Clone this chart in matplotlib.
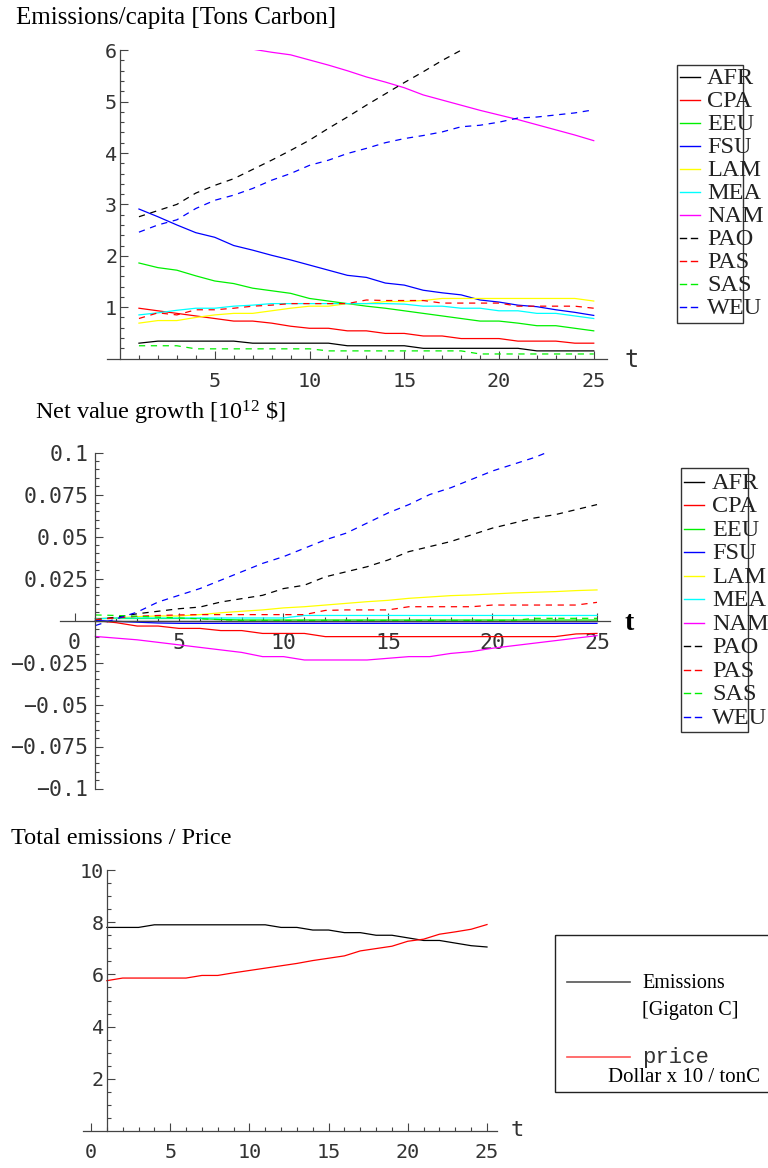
import numpy as np
import matplotlib
matplotlib.use("Agg")
import matplotlib.pyplot as plt
from matplotlib.patches import Rectangle

plt.rcParams["mathtext.fontset"] = "custom"
plt.rcParams["mathtext.rm"] = "Liberation Serif"
plt.rcParams["mathtext.it"] = "Liberation Serif"

t = np.arange(1, 26)

regions = ["AFR", "CPA", "EEU", "FSU", "LAM", "MEA", "NAM", "PAO", "PAS", "SAS", "WEU"]
colors = ["black", "red", "#00f000", "blue", "#ffff00", "cyan", "magenta",
          "black", "red", "#00f000", "blue"]
dashed = [False] * 7 + [True] * 4

# emissions per capita [tons carbon]
afr_cap = [0.30, 0.34, 0.34, 0.34, 0.34, 0.34, 0.30, 0.30, 0.30, 0.30, 0.30, 0.25, 0.25,
           0.25, 0.25, 0.20, 0.20, 0.20, 0.20, 0.20, 0.20, 0.15, 0.15, 0.15, 0.15]
cpa_cap = [0.98, 0.93, 0.88, 0.83, 0.78, 0.73, 0.73, 0.69, 0.63, 0.59, 0.59, 0.54, 0.54,
           0.49, 0.49, 0.44, 0.44, 0.39, 0.39, 0.39, 0.34, 0.34, 0.34, 0.30, 0.30]
eeu_cap = [1.86, 1.77, 1.72, 1.61, 1.51, 1.46, 1.37, 1.32, 1.27, 1.17, 1.12, 1.07, 1.02,
           0.98, 0.93, 0.88, 0.83, 0.78, 0.73, 0.73, 0.69, 0.64, 0.64, 0.59, 0.54]
fsu_cap = [2.91, 2.76, 2.60, 2.45, 2.36, 2.20, 2.11, 2.01, 1.92, 1.82, 1.72, 1.62, 1.58,
           1.47, 1.43, 1.33, 1.28, 1.24, 1.14, 1.10, 1.04, 1.01, 0.95, 0.90, 0.84]
lam_cap = [0.69, 0.74, 0.74, 0.80, 0.85, 0.88, 0.88, 0.93, 0.98, 1.02, 1.02, 1.07, 1.07,
           1.11, 1.11, 1.13, 1.17, 1.17, 1.17, 1.17, 1.17, 1.17, 1.17, 1.17, 1.12]
mea_cap = [0.85, 0.89, 0.94, 0.98, 0.98, 1.02, 1.04, 1.07, 1.07, 1.07, 1.07, 1.07, 1.07,
           1.07, 1.06, 1.02, 1.02, 0.98, 0.98, 0.93, 0.93, 0.88, 0.88, 0.83, 0.78]
nam_cap = [6.80, 6.68, 6.55, 6.42, 6.30, 6.18, 6.02, 5.96, 5.91, 5.81, 5.71, 5.60, 5.48,
           5.38, 5.27, 5.13, 5.03, 4.93, 4.83, 4.74, 4.65, 4.55, 4.45, 4.35, 4.24]
pao_cap = [2.76, 2.88, 3.00, 3.22, 3.37, 3.50, 3.68, 3.86, 4.05, 4.25, 4.48, 4.70, 4.93,
           5.15, 5.37, 5.58, 5.80, 6.00, 6.20, 6.42, 6.62, 6.84, 7.05, 7.27, 7.48]
pas_cap = [0.78, 0.89, 0.85, 0.95, 0.95, 0.98, 1.02, 1.04, 1.07, 1.07, 1.07, 1.07, 1.14,
           1.13, 1.13, 1.13, 1.08, 1.08, 1.08, 1.08, 1.02, 1.02, 1.02, 1.02, 0.98]
sas_cap = [0.25, 0.25, 0.25, 0.19, 0.19, 0.19, 0.19, 0.19, 0.19, 0.19, 0.15, 0.15, 0.15,
           0.15, 0.15, 0.15, 0.15, 0.15, 0.09, 0.09, 0.09, 0.09, 0.09, 0.09, 0.09]
weu_cap = [2.46, 2.60, 2.70, 2.92, 3.08, 3.18, 3.31, 3.47, 3.60, 3.76, 3.86, 3.99, 4.09,
           4.20, 4.28, 4.34, 4.41, 4.51, 4.54, 4.60, 4.68, 4.70, 4.74, 4.78, 4.84]

# net value growth [10^12 $]
afr_nvg = [0.0] * 25
cpa_nvg = [0.0, -0.0013, -0.0033, -0.0033, -0.0047, -0.0047, -0.006, -0.006, -0.0077,
           -0.0077, -0.0077, -0.0096, -0.0096, -0.0096, -0.0096, -0.0096, -0.0096, -0.0096,
           -0.0096, -0.0096, -0.0096, -0.0096, -0.0096, -0.008, -0.0077]
eeu_nvg = [0.0012, 0.0012, 0.0012, 0.0012, 0.0012, 0.0012, 0.0006, 0.0003, 0.0003, 0.0003,
           0.0003, 0.0003, 0.0003, 0.0003, 0.0003, 0.0003, 0.0003, 0.0003, 0.0003, 0.0003,
           0.0003, 0.0003, 0.0003, 0.0003, 0.0003]
fsu_nvg = [0.0, -0.0005, -0.001, -0.0015] + [-0.0017] * 21
lam_nvg = [0.001, 0.0015, 0.0023, 0.0027, 0.0027, 0.0035, 0.0046, 0.0055, 0.0063, 0.0075,
           0.0082, 0.0092, 0.0102, 0.0112, 0.012, 0.0132, 0.014, 0.0148, 0.0152, 0.0158,
           0.0164, 0.0168, 0.0172, 0.0178, 0.0182]
mea_nvg = [0.001] + [0.0015] * 9 + [0.003] * 15
nam_nvg = [-0.0095, -0.0105, -0.0115, -0.013, -0.0145, -0.016, -0.0175, -0.019, -0.0215,
           -0.0215, -0.0235, -0.0235, -0.0235, -0.0235, -0.0225, -0.0215, -0.0215, -0.0196,
           -0.0185, -0.0165, -0.015, -0.0135, -0.012, -0.0105, -0.009]
pao_nvg = [0.0005, 0.002, 0.004, 0.0055, 0.007, 0.008, 0.011, 0.013, 0.015, 0.019, 0.021,
           0.026, 0.029, 0.032, 0.036, 0.041, 0.044, 0.047, 0.051, 0.055, 0.058, 0.061,
           0.063, 0.066, 0.069]
pas_nvg = [0.0006, 0.0015, 0.0025, 0.003, 0.0033, 0.0035, 0.0035, 0.0035, 0.0035, 0.0035,
           0.0035, 0.006, 0.0063, 0.0063, 0.0063, 0.0082, 0.0082, 0.0082, 0.0082, 0.0092,
           0.0092, 0.0092, 0.0092, 0.0092, 0.0108]
sas_nvg = [0.0033, 0.003, 0.0025, 0.002, 0.0015, 0.001, 0.0005] + [0.0] * 14 + [0.0013] * 4
weu_nvg = [-0.003, 0.001, 0.005, 0.011, 0.015, 0.019, 0.024, 0.029, 0.034, 0.038, 0.043,
           0.048, 0.052, 0.058, 0.064, 0.069, 0.075, 0.079, 0.084, 0.089, 0.093, 0.097,
           0.102, 0.107, 0.111]

# total emissions [GtC] and price [10 $/tC]
emissions = [7.8, 7.8, 7.8, 7.9, 7.9, 7.9, 7.9, 7.9, 7.9, 7.9, 7.9, 7.8, 7.8, 7.7, 7.7,
             7.6, 7.6, 7.5, 7.5, 7.4, 7.3, 7.3, 7.2, 7.1, 7.05]
price = [5.76, 5.86, 5.86, 5.86, 5.86, 5.86, 5.96, 5.96, 6.06, 6.15, 6.24, 6.33, 6.42, 6.53,
         6.62, 6.71, 6.90, 6.99, 7.08, 7.27, 7.35, 7.54, 7.63, 7.73, 7.91]

cap_series = [afr_cap, cpa_cap, eeu_cap, fsu_cap, lam_cap, mea_cap, nam_cap,
              pao_cap, pas_cap, sas_cap, weu_cap]
nvg_series = [afr_nvg, cpa_nvg, eeu_nvg, fsu_nvg, lam_nvg, mea_nvg, nam_nvg,
              pao_nvg, pas_nvg, sas_nvg, weu_nvg]

W, H = 768, 1168
fig = plt.figure(figsize=(W / 100, H / 100), dpi=100)

TICKFONT = "DejaVu Sans Mono"
DASH = (0, (5, 4.5))


def add_axes_px(x_left, x_right, y_top, y_bottom):
    return fig.add_axes([x_left / W, 1 - y_bottom / H, (x_right - x_left) / W,
                         (y_bottom - y_top) / H])


def style_axes(ax, x0, ybounds, xbounds, tsize):
    for s in ["top", "right"]:
        ax.spines[s].set_visible(False)
    ax.spines["left"].set_position(("data", x0))
    ax.spines["bottom"].set_position(("data", 0))
    ax.spines["left"].set_bounds(*ybounds)
    ax.spines["bottom"].set_bounds(*xbounds)
    for s in ["left", "bottom"]:
        ax.spines[s].set_color("#444444")
        ax.spines[s].set_linewidth(0.9)
    ax.patch.set_alpha(0)
    ax.tick_params(which="both", direction="in", color="#444444", width=0.8,
                   labelcolor="#333333", labelsize=tsize)
    ax.tick_params(which="major", length=6)
    ax.tick_params(which="minor", length=3)
    for lab in ax.get_xticklabels() + ax.get_yticklabels():
        lab.set_family(TICKFONT)


# ---------------- panel 1: emissions per capita
ax1 = add_axes_px(120 - 18.95 * 1.0, 120 + 18.95 * 27, 358.6 - 51.4 * 6.0, 358.6 + 51.4 * 0.3)
ax1.set_xlim(-1.0, 27)
ax1.set_ylim(-0.3, 6.0)
for name, vals, c, d in zip(regions, cap_series, colors, dashed):
    ax1.plot(t, vals, color=c, lw=0.9, linestyle=DASH if d else "-")
ax1.set_xticks([5, 10, 15, 20, 25])
ax1.set_xticklabels(["5", "10", "15", "20", "25"])
ax1.set_xticks(np.arange(1, 26), minor=True)
ax1.set_yticks([1, 2, 3, 4, 5, 6])
ax1.set_yticklabels(["1", "2", "3", "4", "5", "6"])
ax1.set_yticks(np.arange(0.2, 6.01, 0.2), minor=True)
style_axes(ax1, 0, (0, 6), (-0.7, 25.7), 14.5)
ax1.tick_params(axis="x", pad=10)
ax1.tick_params(axis="y", pad=2)

# ---------------- panel 2: net value growth
ax2 = add_axes_px(74.5 - 20.9 * 1.0, 74.5 + 20.9 * 27, 620.5 - 1680 * 0.1, 620.5 + 1680 * 0.1)
ax2.set_xlim(-1.0, 27)
ax2.set_ylim(-0.1, 0.1)
for name, vals, c, d in zip(regions, nvg_series, colors, dashed):
    ax2.plot(t, vals, color=c, lw=0.9, linestyle=DASH if d else "-")
ax2.set_xticks([0, 5, 10, 15, 20, 25])
ax2.set_xticklabels(["0", "5", "10", "15", "20", "25"])
ax2.set_xticks(np.arange(0, 26), minor=True)
yt2 = [-0.1, -0.075, -0.05, -0.025, 0.025, 0.05, 0.075, 0.1]
yl2 = ["\u22120.1", "\u22120.075", "\u22120.05", "\u22120.025", "0.025", "0.05", "0.075", "0.1"]
ax2.set_yticks(yt2)
ax2.set_yticklabels(yl2)
ax2.set_yticks(np.arange(-0.1, 0.1001, 0.005), minor=True)
style_axes(ax2, 1, (-0.1, 0.1), (-0.7, 25.6), 15.5)
ax2.tick_params(axis="x", pad=9)
ax2.tick_params(axis="y", pad=5)

# ---------------- panel 3: total emissions / price
ax3 = add_axes_px(91 - 15.84 * 1.5, 91 + 15.84 * 27, 1131 - 26.1 * 10, 1131 + 26.1 * 0.5)
ax3.set_xlim(-1.5, 27)
ax3.set_ylim(-0.5, 10)
ax3.plot(t, emissions, color="black", lw=0.9)
ax3.plot(t, price, color="red", lw=0.9)
ax3.set_xticks([0, 5, 10, 15, 20, 25])
ax3.set_xticklabels(["0", "5", "10", "15", "20", "25"])
ax3.set_xticks(np.arange(0, 26), minor=True)
ax3.set_yticks([2, 4, 6, 8, 10])
ax3.set_yticklabels(["2", "4", "6", "8", "10"])
ax3.set_yticks(np.arange(0.5, 10.01, 0.5), minor=True)
style_axes(ax3, 1, (0, 10), (-0.5, 25.6), 14.5)
ax3.tick_params(axis="x", pad=9)
ax3.tick_params(axis="y", pad=2)

# ---------------- overlay in pixel units: titles, axis labels, legends
ov = fig.add_axes([0, 0, 1, 1], zorder=10)
ov.set_xlim(0, W)
ov.set_ylim(H, 0)
ov.axis("off")
ov.patch.set_alpha(0)

serif = "Liberation Serif"
ov.text(16, 18, "Emissions/capita [Tons Carbon]", family=serif, fontsize=18,
        va="center", ha="left")
ov.text(35, 413, "Net value growth [10$^{12}$ \\$]", family=serif, fontsize=17.5,
        va="center", ha="left")
ov.text(11, 838, "Total emissions / Price", family=serif, fontsize=17.5,
        va="center", ha="left")

ov.text(632, 360, "t", family=TICKFONT, fontsize=17, va="center", ha="center", color="#333333")
ov.text(629, 623, "t", family=serif, fontsize=20, fontweight="bold", va="center", ha="center")
ov.text(517, 1130, "t", family=TICKFONT, fontsize=16, va="center", ha="center", color="#333333")


def region_legend(x0, y0, x1, y1, first_row, step, lx0, lx1, tx):
    ov.add_patch(Rectangle((x0, y0), x1 - x0, y1 - y0, fill=False, ec="#333333", lw=1.0))
    for i, (name, c, d) in enumerate(zip(regions, colors, dashed)):
        y = first_row + i * step
        if d:
            ov.plot([lx0, lx0 + 6], [y, y], color=c, lw=1.0)
            ov.plot([lx0 + 11, lx0 + 17], [y, y], color=c, lw=1.0)
        else:
            ov.plot([lx0, lx1], [y, y], color=c, lw=1.0)
        ov.text(tx, y + 1.5, name, family=serif, fontsize=17.5, va="center",
                ha="left", color="#222222")


region_legend(677, 65, 743, 323, 76.7, 23.06, 680, 700, 707)
region_legend(681, 468, 748, 731.5, 481.7, 23.5, 684, 704, 712)

ov.add_patch(Rectangle((555, 935), 215, 157, fill=False, ec="#222222", lw=1.0, clip_on=False))
ov.plot([567, 630], [981.7, 981.7], color="#555555", lw=1.2)
ov.plot([567, 630], [1056.7, 1056.7], color="#ff5555", lw=1.2)
ov.text(642, 983, "Emissions", family=serif, fontsize=14.5, va="center", ha="left")
ov.text(642, 1010, "[Gigaton C]", family=serif, fontsize=14.5, va="center", ha="left")
ov.text(642, 1057, "price", family="Liberation Mono", fontsize=16, va="center", ha="left",
        color="#333333")
ov.text(608, 1078, "Dollar x 10 / tonC", family=serif, fontsize=15, va="center", ha="left")

fig.savefig("out.png", dpi=100)
